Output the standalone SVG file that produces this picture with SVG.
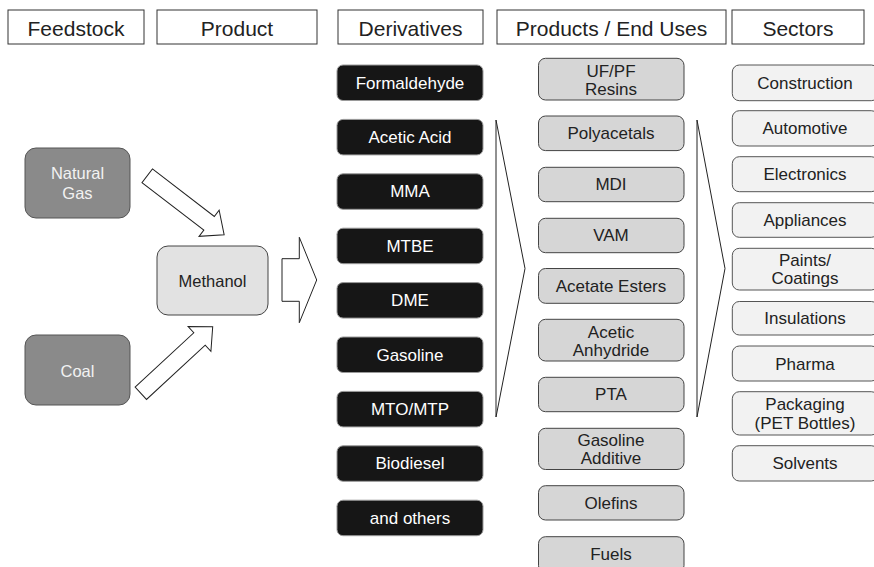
<svg xmlns="http://www.w3.org/2000/svg" width="874" height="567" viewBox="0 0 874 567">
<style>
text{font-family:"Liberation Sans",Arial,Helvetica,sans-serif;text-anchor:middle}
.hdr rect{fill:#fff;stroke:#333;stroke-width:1}
.hdr text{font-size:21px;fill:#222}
.feed rect{fill:#8a8a8a;stroke:#555;stroke-width:1}
.feed text{font-size:16.5px;fill:#f2f2f2}
.meth rect{fill:#e2e2e2;stroke:#444;stroke-width:1}
.meth text{font-size:16.5px;fill:#222}
.der rect{fill:#161616;stroke:#9a9a9a;stroke-width:1}
.der text{font-size:17px;fill:#fff}
.prod rect{fill:#d6d6d6;stroke:#444;stroke-width:1}
.prod text{font-size:17px;fill:#222}
.sec rect{fill:#f2f2f2;stroke:#555;stroke-width:1}
.sec text{font-size:17px;fill:#222}
.conn polygon{fill:#fff;stroke:#222;stroke-width:1;stroke-linejoin:miter}
.conn .chev{fill:none;stroke:#222;stroke-width:1}
</style>
<rect width="874" height="567" fill="#fff"/>

<g id="headers" class="hdr">
  <g id="h-feedstock"><rect x="8" y="10" width="136" height="34"/><text x="76" y="36">Feedstock</text></g>
  <g id="h-product"><rect x="157" y="10" width="160" height="34"/><text x="237" y="36">Product</text></g>
  <g id="h-derivatives"><rect x="338" y="10" width="145" height="34"/><text x="410.5" y="36">Derivatives</text></g>
  <g id="h-enduses"><rect x="497" y="10" width="229" height="34"/><text x="611.5" y="36">Products / End Uses</text></g>
  <g id="h-sectors"><rect x="732" y="10" width="132" height="34"/><text x="798" y="36">Sectors</text></g>
</g>

<g id="natural-gas" class="feed"><rect x="25" y="148" width="105" height="70" rx="11"/><text x="77.5" y="179">Natural</text><text x="77.5" y="199">Gas</text></g>
<g id="coal" class="feed"><rect x="25" y="335" width="105" height="70" rx="11"/><text x="77.5" y="377">Coal</text></g>
<g id="methanol" class="meth"><rect x="157" y="246" width="111" height="69" rx="11"/><text x="212.5" y="287">Methanol</text></g>

<g id="derivatives" class="der">
  <g id="d-formaldehyde"><rect x="337" y="65" width="146" height="35.5" rx="6"/><text x="410" y="88.5">Formaldehyde</text></g>
  <g id="d-acetic-acid"><rect x="337" y="119.4" width="146" height="35.5" rx="6"/><text x="410" y="142.9">Acetic Acid</text></g>
  <g id="d-mma"><rect x="337" y="173.8" width="146" height="35.5" rx="6"/><text x="410" y="197.3">MMA</text></g>
  <g id="d-mtbe"><rect x="337" y="228.2" width="146" height="35.5" rx="6"/><text x="410" y="251.7">MTBE</text></g>
  <g id="d-dme"><rect x="337" y="282.6" width="146" height="35.5" rx="6"/><text x="410" y="306.1">DME</text></g>
  <g id="d-gasoline"><rect x="337" y="337" width="146" height="35.5" rx="6"/><text x="410" y="360.5">Gasoline</text></g>
  <g id="d-mto"><rect x="337" y="391.4" width="146" height="35.5" rx="6"/><text x="410" y="414.9">MTO/MTP</text></g>
  <g id="d-biodiesel"><rect x="337" y="445.8" width="146" height="35.5" rx="6"/><text x="410" y="469.3">Biodiesel</text></g>
  <g id="d-others"><rect x="337" y="500.2" width="146" height="35.5" rx="6"/><text x="410" y="523.7">and others</text></g>
</g>

<g id="products" class="prod">
  <g id="p-ufpf"><rect x="538.5" y="58.3" width="145.5" height="41.7" rx="7"/><text x="611" y="76.5">UF/PF</text><text x="611" y="94.5">Resins</text></g>
  <g id="p-polyacetals"><rect x="538.5" y="116" width="145.5" height="34.6" rx="7"/><text x="611" y="139">Polyacetals</text></g>
  <g id="p-mdi"><rect x="538.5" y="167.3" width="145.5" height="34.4" rx="7"/><text x="611" y="190.3">MDI</text></g>
  <g id="p-vam"><rect x="538.5" y="218.3" width="145.5" height="34.4" rx="7"/><text x="611" y="241.3">VAM</text></g>
  <g id="p-acetate"><rect x="538.5" y="268.5" width="145.5" height="34.8" rx="7"/><text x="611" y="291.6">Acetate Esters</text></g>
  <g id="p-anhydride"><rect x="538.5" y="319.3" width="145.5" height="41.7" rx="7"/><text x="611" y="337.5">Acetic</text><text x="611" y="355.5">Anhydride</text></g>
  <g id="p-pta"><rect x="538.5" y="377.3" width="145.5" height="34.4" rx="7"/><text x="611" y="400.3">PTA</text></g>
  <g id="p-gasoline-additive"><rect x="538.5" y="428.3" width="145.5" height="41.2" rx="7"/><text x="611" y="446.3">Gasoline</text><text x="611" y="464.3">Additive</text></g>
  <g id="p-olefins"><rect x="538.5" y="485.7" width="145.5" height="34.3" rx="7"/><text x="611" y="508.7">Olefins</text></g>
  <g id="p-fuels"><rect x="538.5" y="536.7" width="145.5" height="36" rx="7"/><text x="611" y="559.5">Fuels</text></g>
</g>

<g id="sectors" class="sec">
  <g id="s-construction"><rect x="732.3" y="65" width="146" height="35.7" rx="7"/><text x="805" y="88.8">Construction</text></g>
  <g id="s-automotive"><rect x="732.3" y="110.7" width="146" height="35.3" rx="7"/><text x="805" y="134.3">Automotive</text></g>
  <g id="s-electronics"><rect x="732.3" y="156.7" width="146" height="35" rx="7"/><text x="805" y="180.2">Electronics</text></g>
  <g id="s-appliances"><rect x="732.3" y="202.7" width="146" height="34.6" rx="7"/><text x="805" y="226">Appliances</text></g>
  <g id="s-paints"><rect x="732.3" y="248.3" width="146" height="41.7" rx="7"/><text x="805" y="266">Paints/</text><text x="805" y="284">Coatings</text></g>
  <g id="s-insulations"><rect x="732.3" y="301.5" width="146" height="33.5" rx="7"/><text x="805" y="324">Insulations</text></g>
  <g id="s-pharma"><rect x="732.3" y="346" width="146" height="35" rx="7"/><text x="805" y="369.5">Pharma</text></g>
  <g id="s-packaging"><rect x="732.3" y="391.7" width="146" height="43.3" rx="7"/><text x="805" y="410">Packaging</text><text x="805" y="428.5">(PET Bottles)</text></g>
  <g id="s-solvents"><rect x="732.3" y="445.7" width="146" height="35.3" rx="7"/><text x="805" y="469.3">Solvents</text></g>
</g>

<g id="connectors" class="conn">
  <polygon transform="translate(147.2,175.8) rotate(37.5)" points="0,-8.6 78,-8.6 78,-16.5 97,0 78,16.5 78,8.6 0,8.6"/>
  <polygon transform="translate(140.8,393.3) rotate(-42.8)" points="0,-8.4 80,-8.4 80,-16.8 98,0 80,16.8 80,8.4 0,8.4"/>
  <polygon points="282,258.7 299.3,258.7 299.3,237.3 316.7,280 299.3,322.7 299.3,301.3 282,301.3"/>
  <polygon class="chev" points="496,120 496,417 525,268.5"/>
  <polygon class="chev" points="697,120 697,417 725,268.5"/>
</g>
</svg>
